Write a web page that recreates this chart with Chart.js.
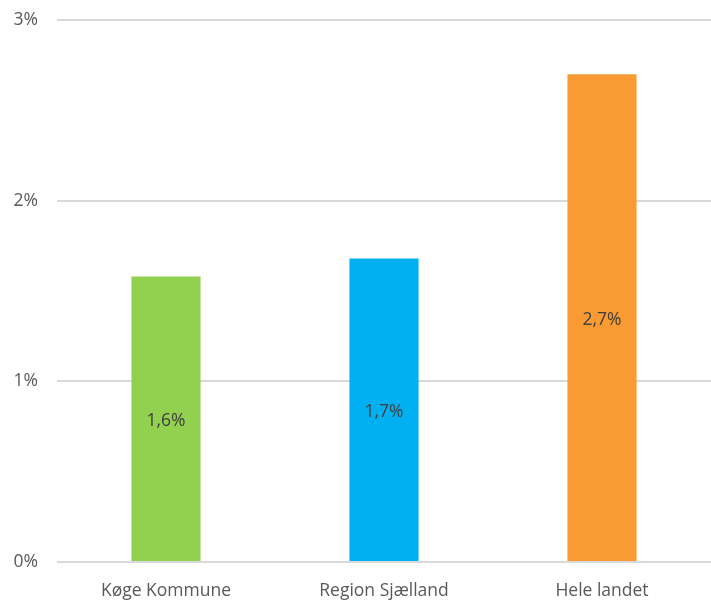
<!DOCTYPE html>
<html><head><meta charset="utf-8">
<script src="https://cdn.jsdelivr.net/npm/chart.js@4/dist/chart.umd.min.js"></script>
<style>html,body{margin:0;padding:0;background:#fff}#w{width:711px;height:601px}</style>
</head><body><div id="w"><canvas id="c"></canvas></div>
<script>
const categories = ["Køge Kommune", "Region Sjælland", "Hele landet"];
const values = [1.58, 1.68, 2.70];
const valueLabels = ["1,6%", "1,7%", "2,7%"];
const barColors = ["#92D050", "#00B0F0", "#F99A33"];
const yTicks = [0, 1, 2, 3];

const labelPlugin = {
  id: 'midLabels',
  afterDatasetsDraw(chart) {
    const ctx = chart.ctx;
    const meta = chart.getDatasetMeta(0);
    ctx.save();
    ctx.font = '17.5px "Open Sans", sans-serif';
    ctx.fillStyle = '#404040';
    ctx.textAlign = 'center';
    ctx.textBaseline = 'middle';
    meta.data.forEach((bar, i) => {
      const mid = (bar.y + bar.base) / 2;
      ctx.fillText(valueLabels[i], bar.x, mid + 2);
    });
    ctx.restore();
  }
};

new Chart(document.getElementById('c'), {
  type: 'bar',
  data: {
    labels: categories,
    datasets: [{ data: values, backgroundColor: barColors, barPercentage: 0.634, categoryPercentage: 0.5 }]
  },
  options: {
    responsive: true, maintainAspectRatio: false, animation: false,
    layout: { padding: { top: 20, right: 0, bottom: 0, left: 0 } },
    plugins: { legend: { display: false }, tooltip: { enabled: false } },
    scales: {
      x: {
        grid: { display: false },
        border: { display: false },
        ticks: { color: '#595959', font: { family: '"Open Sans", sans-serif', size: 17.5 }, padding: 11 },
        afterFit(s) { s.height = 39; s.paddingLeft = 0; s.paddingRight = 0; }
      },
      y: {
        min: 0, max: 3,
        afterBuildTicks(s) { s.ticks = yTicks.map(v => ({ value: v })); },
        grid: { color: '#D9D9D9', lineWidth: 2, drawTicks: false },
        border: { display: false },
        ticks: { color: '#595959', font: { family: '"Open Sans", sans-serif', size: 17.5 }, padding: 19, callback: v => v + '%' },
        afterFit(s) { s.width = 57; s.paddingTop = 0; s.paddingBottom = 0; }
      }
    }
  },
  plugins: [labelPlugin]
});
</script></body></html>
